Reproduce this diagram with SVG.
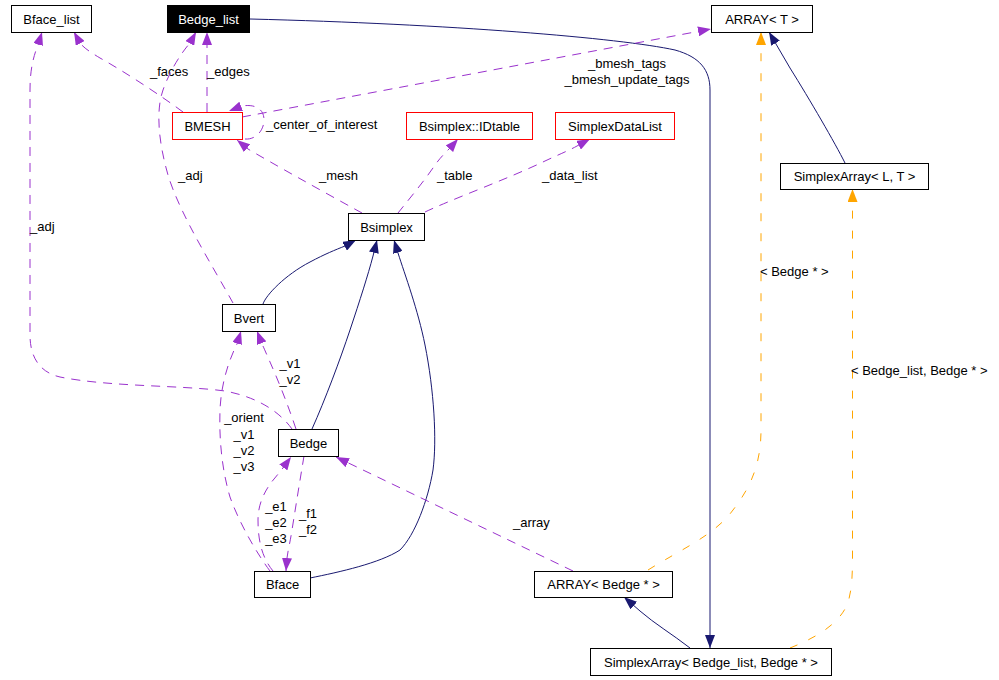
<svg xmlns="http://www.w3.org/2000/svg" width="999" height="680" viewBox="0 0 999 680">
<style>
text{font-family:"Liberation Sans",Arial,Helvetica,sans-serif;font-size:13px;fill:#000}
.node rect{fill:#fff;stroke:#000;stroke-width:1}
.node.red rect{stroke:#ff0000}
.node text{text-anchor:middle}
.p{fill:none;stroke:#9a32cd;stroke-width:1;stroke-dasharray:9,7;marker-end:url(#ap)}
.b{fill:none;stroke:#191970;stroke-width:1;marker-end:url(#ab)}
.o{fill:none;stroke:#ffa500;stroke-width:1;stroke-dasharray:8,12;marker-end:url(#ao)}
.lbl{text-anchor:middle}
.lbs{text-anchor:start}
</style>
<defs>
<marker id="ap" viewBox="0 0 13 10" markerWidth="13" markerHeight="10" refX="13" refY="5" orient="auto" markerUnits="userSpaceOnUse"><path d="M0,0 L13,5 L0,10 z" fill="#9a32cd"/></marker>
<marker id="ab" viewBox="0 0 13 10" markerWidth="13" markerHeight="10" refX="13" refY="5" orient="auto" markerUnits="userSpaceOnUse"><path d="M0,0 L13,5 L0,10 z" fill="#191970"/></marker>
<marker id="ao" viewBox="0 0 13 10" markerWidth="13" markerHeight="10" refX="13" refY="5" orient="auto" markerUnits="userSpaceOnUse"><path d="M0,0 L13,5 L0,10 z" fill="#ffa500"/></marker>
</defs>
<rect width="999" height="680" fill="#fff"/>
<g id="connectors">
<path class="b" d="M250,19 C450,24 620,38 675,50 C700,57 710,70 710,90 L710,648"/>
<path class="p" d="M183,112 C160,95 125,72 100,58 C90,52 84,48 80,43 L74,32"/>
<text class="lbs" x="150" y="76">_faces</text>
<path class="p" d="M207,112 L207,32"/>
<text class="lbs" x="207" y="76">_edges</text>
<path class="p" d="M233,303 C215,270 180,215 168,175 C158,140 156,110 163,90 C170,70 182,52 190,43 L196,32"/>
<text class="lbs" x="178" y="180">_adj</text>
<path class="p" d="M292,429 C282,415 262,398 225,391 C180,385 110,387 60,377 C38,372 30,355 30,335 L30,90 C30,68 34,55 38,45 L42,32"/>
<text class="lbs" x="30" y="231">_adj</text>
<path class="p" d="M245,139 C256,140 264,130 264,120 C264,108 254,104 242,106 L229,111"/>
<text class="lbs" x="266" y="129">_center_of_interest</text>
<path class="p" d="M362,213 C320,190 270,162 248,149 L237,140"/>
<text class="lbs" x="319" y="180">_mesh</text>
<path class="p" d="M398,213 C410,198 425,180 435,165 C440,158 445,153 450,148 L458,139"/>
<text class="lbs" x="437" y="180">_table</text>
<path class="p" d="M425,212 C450,200 510,178 545,161 C560,154 570,150 577,146 L590,139"/>
<text class="lbs" x="542" y="180">_data_list</text>
<path class="p" d="M242,117 L711,29"/>
<text class="lbl" x="627" y="68">_bmesh_tags</text>
<text class="lbl" x="627" y="84">_bmesh_update_tags</text>
<path class="b" d="M263,304 C266,295 285,275 310,262 C325,254 335,250 345,246 L356,240"/>
<path class="b" d="M312,429 C325,400 340,360 350,330 C360,300 368,275 373,256 L377,240"/>
<path class="b" d="M310,578 C340,572 380,563 400,550 C415,535 428,500 433,470 C437,440 434,390 425,345 C418,310 405,275 398,253 L394,240"/>
<path class="p" d="M296,429 C288,405 278,380 270,362 C266,353 264,348 262,344 L257,331"/>
<text class="lbl" x="290" y="368">_v1</text>
<text class="lbl" x="290" y="384">_v2</text>
<path class="p" d="M270,571 C258,555 240,525 230,497 C222,470 219,440 220,410 C221,385 228,362 237,344 L241,331"/>
<text class="lbl" x="244" y="422">_orient</text>
<text class="lbl" x="244" y="439">_v1</text>
<text class="lbl" x="244" y="455">_v2</text>
<text class="lbl" x="244" y="471">_v3</text>
<path class="p" d="M273,571 C264,560 258,545 258,520 C258,500 268,485 280,472 L291,457"/>
<text class="lbl" x="276" y="511">_e1</text>
<text class="lbl" x="276" y="527">_e2</text>
<text class="lbl" x="276" y="543">_e3</text>
<path class="p" d="M304,456 C300,480 296,505 292,530 C290,543 288,550 287,558 L286,571"/>
<text class="lbl" x="308" y="518">_f1</text>
<text class="lbl" x="308" y="534">_f2</text>
<path class="p" d="M573,571 L336,457"/>
<text class="lbs" x="513" y="527">_array</text>
<path class="o" d="M648,570 C680,550 715,535 733,510 C750,488 761,465 761,430 L761,32"/>
<text class="lbs" x="760" y="276">&lt; Bedge * &gt;</text>
<path class="o" d="M790,648 C815,638 838,625 847,605 C852,592 852.5,575 852.5,555 L852.5,189"/>
<text class="lbs" x="851" y="375">&lt; Bedge_list, Bedge * &gt;</text>
<path class="b" d="M690,648 C672,634 655,624 640,611 L624,597"/>
<path class="b" d="M845,163 C835,143 810,100 790,68 L769,32"/>
</g>
<g id="Bface_list" class="node"><rect x="11.5" y="5.5" width="80" height="27"/><text x="51.5" y="23.5">Bface_list</text></g>
<g id="Bedge_list" class="node"><rect x="167.5" y="5.5" width="82" height="27" style="fill:#000"/><text x="208.5" y="23.5" style="fill:#fff">Bedge_list</text></g>
<g id="ARRAY_T" class="node"><rect x="711.5" y="5.5" width="101" height="27"/><text x="762" y="23.5">ARRAY&lt; T &gt;</text></g>
<g id="BMESH" class="node red"><rect x="172.5" y="112.5" width="70" height="27"/><text x="207.5" y="130.5">BMESH</text></g>
<g id="Bsimplex_IDtable" class="node red"><rect x="406.5" y="112.5" width="126" height="27"/><text x="469.5" y="130.5">Bsimplex::IDtable</text></g>
<g id="SimplexDataList" class="node red"><rect x="555.5" y="112.5" width="119" height="27"/><text x="615" y="130.5">SimplexDataList</text></g>
<g id="SimplexArray_LT" class="node"><rect x="780.5" y="163.5" width="148" height="26"/><text x="854.5" y="181">SimplexArray&lt; L, T &gt;</text></g>
<g id="Bsimplex" class="node"><rect x="348.5" y="213.5" width="76" height="27"/><text x="386.5" y="231.5">Bsimplex</text></g>
<g id="Bvert" class="node"><rect x="222.5" y="304.5" width="53" height="27"/><text x="249" y="322.5">Bvert</text></g>
<g id="Bedge" class="node"><rect x="278.5" y="429.5" width="60" height="27"/><text x="308.5" y="447.5">Bedge</text></g>
<g id="Bface" class="node"><rect x="254.5" y="571.5" width="56" height="26"/><text x="282.5" y="589">Bface</text></g>
<g id="ARRAY_Bedge" class="node"><rect x="534.5" y="571.5" width="138" height="26"/><text x="603.5" y="589">ARRAY&lt; Bedge * &gt;</text></g>
<g id="SimplexArray_Bedge_list" class="node"><rect x="590.5" y="648.5" width="241" height="27"/><text x="711" y="666.5">SimplexArray&lt; Bedge_list, Bedge * &gt;</text></g>
</svg>
